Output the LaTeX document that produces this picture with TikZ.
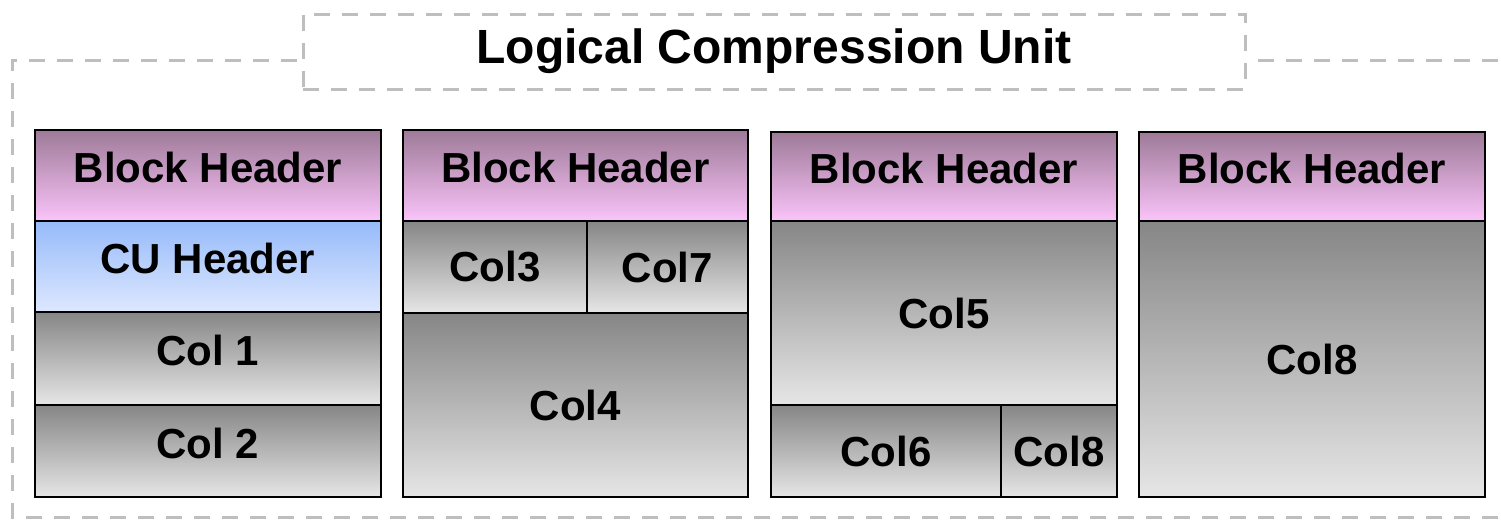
\documentclass[tikz,border=0pt]{standalone}
\usepackage{fontspec}
\setmainfont{Liberation Sans}
\usepackage{tikz}
\usetikzlibrary{positioning}

\definecolor{headtop}{RGB}{158,122,152}
\definecolor{headbot}{RGB}{250,196,250}
\definecolor{cutop}{RGB}{150,186,250}
\definecolor{cubot}{RGB}{222,232,255}
\definecolor{coltop}{RGB}{134,134,134}
\definecolor{colbot}{RGB}{230,230,230}
\definecolor{framegray}{RGB}{190,190,190}

% one cell of a block: [style]{x0}{y0}{x1}{y1}{name}{text}, in pixels
\newcommand{\cell}[7][col cell]{%
	\pgfmathsetmacro\cw{(#4-#2)*0.5}%
	\pgfmathsetmacro\ch{(#5-#3)*0.5}%
	\node[#1,minimum width=\cw pt,minimum height=\ch pt] (#6) at ({(#2+#4)/2},{(#3+#5)/2}) {#7};}

\begin{document}
\begin{tikzpicture}[x=0.5pt,y=-0.5pt,
	box/.style={draw=black,line width=1pt,inner sep=0pt,font=\fontsize{21}{24}\selectfont\bfseries},
	head cell/.style={box,top color=headtop,bottom color=headbot},
	cu cell/.style={box,top color=cutop,bottom color=cubot},
	col cell/.style={box,top color=coltop,bottom color=colbot},
	raised/.style={text depth=8pt},
	frame/.style={draw=framegray,line width=1.5pt,dash pattern=on 8pt off 6pt}]
	\useasboundingbox (0,0) rectangle (1501,520);
	% outer frame and title
	\node[frame,minimum width=471pt,minimum height=37.5pt,font=\fontsize{24}{28}\selectfont\bfseries] (title) at (774,51.5) {Logical Compression Unit};
	\draw[frame] (297,60) -- (12,60) -- (12,517) -- (1515,517);
	\draw[frame] (1258,60) -- (1515,60);
	% block 1
	\cell[head cell,raised]{35}{130}{381}{221}{bh1}{Block Header}
	\cell[cu cell,raised]{35}{221}{381}{312}{cuh}{CU Header}
	\cell[col cell,raised]{35}{312}{381}{405}{col1}{Col 1}
	\cell[col cell,raised]{35}{405}{381}{497}{col2}{Col 2}
	% block 2
	\cell[head cell,raised]{403}{130}{748}{221}{bh2}{Block Header}
	\cell{403}{221}{587}{313}{col3}{Col3}
	\cell{587}{221}{748}{313}{col7}{Col7}
	\cell{403}{313}{748}{497}{col4}{Col4}
	% block 3
	\cell[head cell,raised]{771}{132}{1117}{221}{bh3}{Block Header}
	\cell{771}{221}{1117}{405}{col5}{Col5}
	\cell{771}{405}{1001}{497}{col6}{Col6}
	\cell{1001}{405}{1117}{497}{col8a}{Col8}
	% block 4
	\cell[head cell,raised]{1139}{132}{1485}{221}{bh4}{Block Header}
	\cell{1139}{221}{1485}{497}{col8b}{Col8}
\end{tikzpicture}
\end{document}
